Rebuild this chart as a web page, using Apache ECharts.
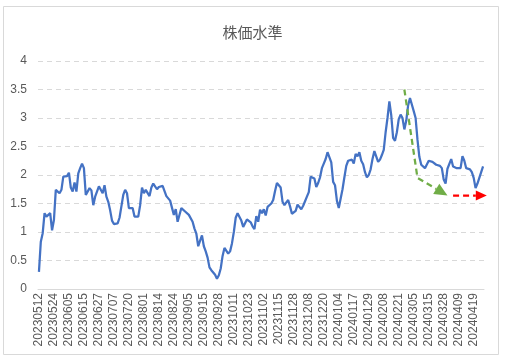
<!DOCTYPE html>
<html><head><meta charset="utf-8">
<script src="https://cdn.jsdelivr.net/npm/echarts@6/dist/echarts.min.js"></script>
<style>html,body{margin:0;padding:0;background:#fff}#c{width:505px;height:361px}</style>
</head><body><div id="c"></div>
<script>
// Trading calendar (Tokyo) used for the category axis
const startDate = '20230512';
const endDate = '20240426';
const holidays = ['20230717','20230811','20230918','20231009','20231103','20231123',
  '20240101','20240102','20240103','20240108','20240212','20240223','20240320'];

// Tick labels shown on the x axis
const tickLabels = ['20230512','20230524','20230605','20230615','20230627','20230707','20230720',
  '20230801','20230814','20230824','20230905','20230915','20230928','20231011','20231023',
  '20231102','20231115','20231128','20231208','20231220','20240104','20240117','20240129',
  '20240208','20240221','20240305','20240315','20240328','20240409','20240419'];

// Series values
const values = [
  0.30,0.83,0.98,1.33,1.27,1.24,1.33,1.03,1.21,1.74,
  1.71,1.68,1.74,1.97,1.97,1.98,2.04,1.78,1.71,1.87,
  1.71,2.03,2.12,2.20,2.12,1.65,1.62,1.77,1.73,1.47,
  1.62,1.62,1.80,1.74,1.68,1.82,1.62,1.53,1.38,1.20,
  1.14,1.16,1.15,1.25,1.45,1.65,1.74,1.68,1.42,1.44,
  1.42,1.27,1.24,1.27,1.47,1.78,1.68,1.74,1.74,1.63,
  1.78,1.85,1.83,1.75,1.79,1.80,1.81,1.82,1.63,1.62,
  1.55,1.53,1.30,1.40,1.18,1.21,1.42,1.39,1.36,1.33,
  1.30,1.27,1.18,1.06,0.97,0.75,0.85,0.94,0.75,0.66,
  0.55,0.38,0.33,0.31,0.25,0.18,0.24,0.36,0.58,0.72,
  0.72,0.62,0.66,0.80,1.00,1.25,1.33,1.31,1.20,1.09,
  1.11,1.22,1.25,1.17,1.10,1.05,1.28,1.18,1.39,1.33,
  1.40,1.29,1.44,1.45,1.50,1.56,1.72,1.86,1.82,1.78,
  1.53,1.47,1.52,1.56,1.45,1.32,1.29,1.37,1.48,1.47,
  1.40,1.46,1.54,1.62,1.70,1.97,1.94,1.94,1.79,1.86,
  1.96,2.12,2.20,2.28,2.40,2.41,2.22,1.88,1.82,1.55,
  1.42,1.42,1.75,1.96,2.16,2.25,2.23,2.27,2.20,2.37,
  2.33,2.40,2.25,2.19,2.05,1.96,2.00,2.10,2.28,2.42,
  2.40,2.23,2.27,2.35,2.44,2.75,3.00,3.29,3.05,2.65,
  2.60,2.75,2.98,3.06,3.00,2.80,2.95,3.22,3.35,3.37,
  3.12,3.00,2.62,2.32,2.18,2.17,2.12,2.15,2.25,2.25,
  2.23,2.24,2.18,2.19,2.16,2.12,1.92,1.85,2.11,2.08,
  2.28,2.15,2.12,2.12,2.12,2.12,2.33,2.25,2.12,2.13,
  2.10,2.05,1.95,1.77,1.85,1.95,2.05,2.15
];

// Annotation arrows in data units: [category index, value]
const greenArrow = [[194.8,3.50],[202.3,1.95],[218.3,1.64]];
const redArrow = [[221.3,1.64],[238.8,1.64]];

function buildDates(){
  const out = [];
  const d = new Date(+startDate.slice(0,4), +startDate.slice(4,6)-1, +startDate.slice(6,8));
  const e = new Date(+endDate.slice(0,4), +endDate.slice(4,6)-1, +endDate.slice(6,8));
  while (d <= e) {
    const s = d.getFullYear() + String(d.getMonth()+1).padStart(2,'0') + String(d.getDate()).padStart(2,'0');
    const wd = d.getDay();
    if (wd !== 0 && wd !== 6 && holidays.indexOf(s) < 0) out.push(s);
    d.setDate(d.getDate()+1);
  }
  return out;
}
const categories = buildDates();

const chart = echarts.init(document.getElementById('c'), null, {renderer:'canvas'});
const txt = '#595959';
chart.setOption({
  animation:false,
  backgroundColor:'#ffffff',
  title:{text:'株価水準', left:'center', top:20,
    textStyle:{color:txt, fontSize:15, fontWeight:'normal', fontFamily:'Noto Sans CJK JP'}},
  grid:{left:38, right:21, top:61, bottom:72, containLabel:false},
  xAxis:{type:'category', data:categories, boundaryGap:true,
    axisLine:{lineStyle:{color:'#d9d9d9', width:1}},
    axisTick:{show:false},
    axisLabel:{rotate:90, color:txt, fontSize:12, fontFamily:'Liberation Sans', margin:4,
      hideOverlap:false,
      interval:(idx,val)=>tickLabels.indexOf(val)>=0},
    splitLine:{show:false}},
  yAxis:{type:'value', min:0, max:4, interval:0.5,
    axisLine:{show:false}, axisTick:{show:false},
    axisLabel:{color:txt, fontSize:12, fontFamily:'Liberation Sans', margin:11},
    splitLine:{lineStyle:{color:'#d9d9d9', type:[5,4], width:1}}},
  series:[{type:'line', data:values, symbol:'none', smooth:false,
    lineStyle:{color:'#4472C4', width:2.25}, itemStyle:{color:'#4472C4'}}]
});

function px(p){ return chart.convertToPixel({xAxisIndex:0, yAxisIndex:0}, p); }
function head(tip, from, L, W){
  const dx = tip[0]-from[0], dy = tip[1]-from[1];
  const len = Math.hypot(dx,dy); const ux = dx/len, uy = dy/len;
  const bx = tip[0]-ux*L, by = tip[1]-uy*L;
  return {base:[bx,by], pts:[tip,[bx-uy*W, by+ux*W],[bx+uy*W, by-ux*W]]};
}
const g = greenArrow.map(px);
const gh = head(g[2], g[1], 13, 6);
const r = redArrow.map(px);
const rh = head(r[1], r[0], 11, 5);
chart.setOption({graphic:[
  {type:'rect', shape:{x:3.5, y:6.5, width:495, height:348}, style:{fill:'none', stroke:'#d9d9d9', lineWidth:1}, silent:true},
  {type:'polyline', shape:{points:[g[0], g[1], gh.base]}, style:{stroke:'#70AD47', lineWidth:2.25, lineDash:[6,4], fill:'none'}, z:10},
  {type:'polygon', shape:{points:gh.pts}, style:{fill:'#70AD47'}, z:10},
  {type:'polyline', shape:{points:[r[0], rh.base]}, style:{stroke:'#FF0000', lineWidth:2.25, lineDash:[6,4], fill:'none'}, z:10},
  {type:'polygon', shape:{points:rh.pts}, style:{fill:'#FF0000'}, z:10}
]});
</script></body></html>
